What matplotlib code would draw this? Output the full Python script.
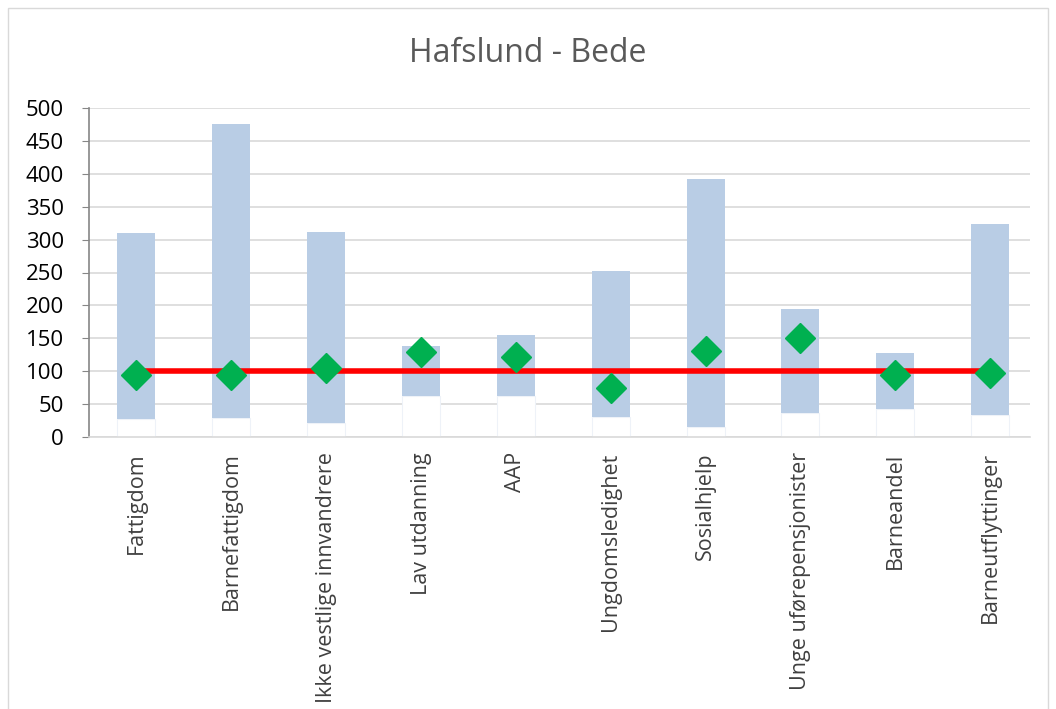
import matplotlib.pyplot as plt
from matplotlib.patches import Rectangle

# Data
categories = ['Fattigdom', 'Barnefattigdom', 'Ikke vestlige innvandrere',
              'Lav utdanning', 'AAP', 'Ungdomsledighet', 'Sosialhjelp',
              'Unge uførepensjonister', 'Barneandel', 'Barneutflyttinger']
range_min = [27, 29, 22, 63, 62, 30, 15, 36, 43, 33]
range_max = [310, 475, 312, 138, 155, 253, 392, 195, 127, 324]
area_value = [94, 94, 105, 129, 122, 74, 131, 151, 94, 97]
reference = [100] * len(categories)

fig = plt.figure(figsize=(10.56, 7.09), dpi=100)

# Chart border like the spreadsheet frame
fig.patches.append(Rectangle((8 / 1056, -0.01), 1040 / 1056, 1 - 8 / 709 + 0.01,
                             transform=fig.transFigure, fill=False,
                             edgecolor='#d9d9d9', linewidth=1))

ax = fig.add_axes([89 / 1056, 1 - 437 / 709, (1030 - 89) / 1056, (437 - 108) / 709])

x = list(range(len(categories)))
heights = [hi - lo for lo, hi in zip(range_min, range_max)]

# Invisible base and visible range (stacked bars)
ax.bar(x, range_min, width=0.4, color='white', edgecolor='#eef2f8', linewidth=0.8, zorder=2)
ax.bar(x, heights, bottom=range_min, width=0.4, color='#b9cde5', linewidth=0, zorder=2)

# Reference line at 100 and the diamonds
ax.plot(x, reference, color='#ff0000', linewidth=4, zorder=3)
ax.plot(x, area_value, linestyle='none', marker='D', markersize=15,
        color='#00b050', zorder=4)

ax.set_xlim(-0.5, 9.42)
ax.set_ylim(0, 500)
ax.set_yticks(range(0, 501, 50))
ax.yaxis.grid(True, color='#d9d9d9', linewidth=1.2, zorder=0)
ax.set_axisbelow(True)

for side in ['top', 'right']:
    ax.spines[side].set_visible(False)
ax.spines['left'].set_color('#868686')
ax.spines['left'].set_linewidth(1.2)
ax.spines['bottom'].set_color('#d9d9d9')
ax.spines['bottom'].set_linewidth(1.2)

ax.tick_params(axis='y', direction='out', length=5, color='#868686',
               labelsize=16, pad=13, labelcolor='black')
ax.tick_params(axis='x', length=0, pad=11)
ax.set_xticks(x)
ax.set_xticklabels(categories, rotation=90, fontsize=15.5, va='top',
                   color='#404040', fontfamily='Open Sans')
for lab in ax.get_yticklabels():
    lab.set_fontfamily('Open Sans')

fig.text(0.5, 1 - 53 / 709, 'Hafslund - Bede', ha='center', va='center',
         fontsize=23, color='#595959', fontfamily='Open Sans')

fig.savefig('out.png', dpi=100)
